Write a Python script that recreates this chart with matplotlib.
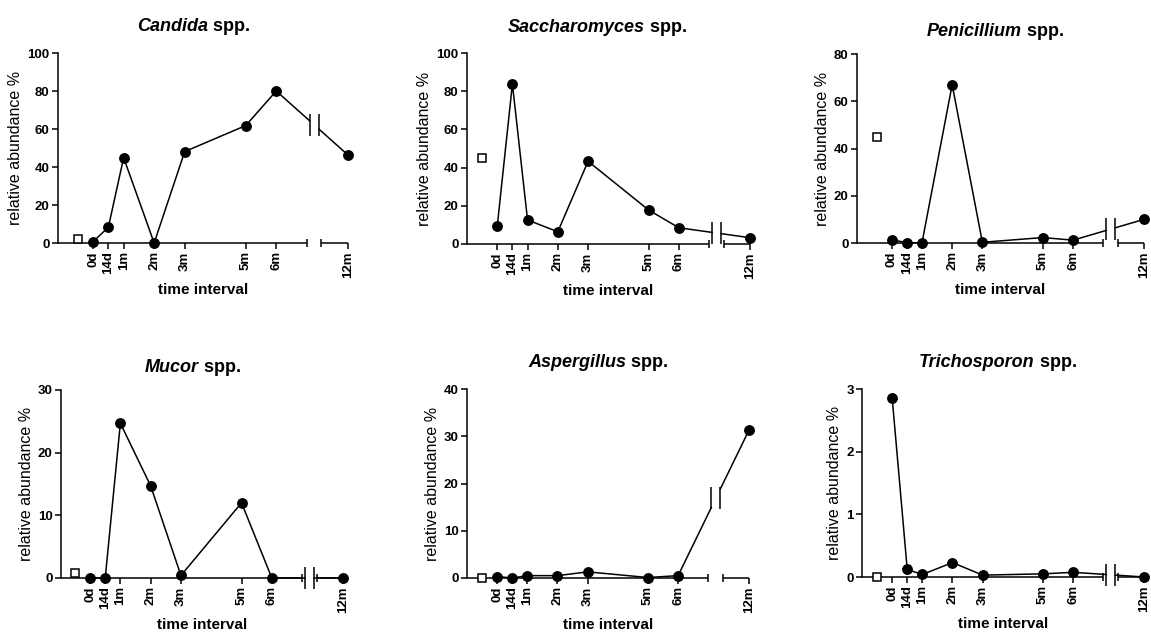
import matplotlib.pyplot as plt
import numpy as np

plt.rcParams["font.family"] = ["Liberation Sans", "DejaVu Sans"]

# sampling times; 12m sits behind an axis break
time_labels = ["0d", "14d", "1m", "2m", "3m", "5m", "6m", "12m"]
time_months = [0, 0.5, 1, 2, 3, 5, 6, 12]

genera = ["Candida", "Saccharomyces", "Penicillium", "Mucor", "Aspergillus", "Trichosporon"]

# relative abundance % at each time point
candida = [0.7, 8.3, 44.9, 0.0, 48.1, 61.8, 80.0, 46.3]
saccharomyces = [9.4, 83.8, 12.6, 6.4, 43.3, 17.8, 8.5, 3.3]
penicillium = [1.3, 0.2, 0.0, 67.0, 0.3, 2.3, 1.2, 10.0]
mucor = [0.0, 0.0, 24.7, 14.7, 0.4, 12.0, 0.0, 0.0]
aspergillus = [0.3, 0.0, 0.5, 0.5, 1.3, 0.1, 0.5, 31.3]
trichosporon = [2.86, 0.12, 0.04, 0.23, 0.03, 0.05, 0.075, 0.0]

# open-square reference value (before 0d)
controls = [2.0, 45.0, 45.0, 0.75, 0.0, 0.0]

y_max = [100, 100, 80, 30, 40, 3]
y_step = [20, 20, 20, 10, 10, 1]

W, H = 1151, 633
# axes boxes in pixels: left, top, right, bottom
boxes = [(58, 53, 348, 243), (467, 53, 750, 244), (857, 54, 1144, 243),
         (61, 390, 343, 578), (467, 389, 749, 578), (862, 389, 1144, 577)]
x_left = [-1.15, -1.0, -1.15, -0.96, -1.0, -1.0]
title_at = [(137, 31), (508, 32), (927, 36), (145, 372), (528, 367), (919, 367)]

BREAK_SCALE = 2.35 / 6.0
X_RIGHT = 6 + 6 * BREAK_SCALE
AX_END, AX_RESTART = 7.0, 7.48
LINE_CUT1, LINE_CUT2 = 7.1, 7.4
LW = 1.1


def to_axis(months):
    m = np.asarray(months, dtype=float)
    return np.where(m <= 6, m, 6 + (m - 6) * BREAK_SCALE)


def draw_panel(ax, values, ctrl, ymax, ystep, xl):
    x = to_axis(time_months)
    y = np.asarray(values, dtype=float)
    seg_x, seg_y = [x[6], x[7]], [y[6], y[7]]
    y1 = np.interp(LINE_CUT1, seg_x, seg_y)
    y2 = np.interp(LINE_CUT2, seg_x, seg_y)
    ymid = np.interp((LINE_CUT1 + LINE_CUT2) / 2, seg_x, seg_y)

    ax.plot(np.r_[x[:7], LINE_CUT1], np.r_[y[:7], y1], color="k", lw=LW, clip_on=False)
    ax.plot([LINE_CUT2, x[7]], [y2, y[7]], color="k", lw=LW, clip_on=False)
    ax.plot([LINE_CUT1, LINE_CUT2], [ymid, ymid], ls="none", marker="|",
            ms=16, mew=LW, color="k", clip_on=False)
    ax.plot(x, y, "o", ms=6.8, color="k", clip_on=False, zorder=4)
    ax.plot([-0.5], [ctrl], "s", mfc="white", mec="k", ms=6, mew=1.1,
            clip_on=False, zorder=4)

    # broken x axis
    for s in ("top", "right", "bottom"):
        ax.spines[s].set_visible(False)
    ax.spines["left"].set_linewidth(LW)
    ax.plot([xl, AX_END], [0, 0], color="k", lw=LW, clip_on=False, solid_capstyle="butt")
    ax.plot([AX_RESTART, X_RIGHT], [0, 0], color="k", lw=LW, clip_on=False,
            solid_capstyle="butt")
    ax.plot([AX_END, AX_RESTART], [0, 0], ls="none", marker="|", ms=6, mew=LW,
            color="k", clip_on=False)

    ax.set_xlim(xl, X_RIGHT)
    ax.set_ylim(0, ymax)
    ax.set_xticks(x)
    ax.set_xticklabels(time_labels, rotation=90, fontsize=9.5, fontweight="bold")
    yt = np.arange(0, ymax + ystep / 2, ystep)
    ax.set_yticks(yt)
    ax.set_yticklabels([f"{v:g}" for v in yt], fontsize=9.5, fontweight="bold")
    ax.tick_params(direction="out", length=4, width=LW, pad=2)
    ax.set_ylabel("relative abundance %", fontsize=11.5, labelpad=3)
    ax.set_xlabel("time interval", fontsize=11, fontweight="bold", labelpad=4)


fig = plt.figure(figsize=(W / 100, H / 100), dpi=100)
series = [candida, saccharomyces, penicillium, mucor, aspergillus, trichosporon]

for i, genus in enumerate(genera):
    l, t, r, b = boxes[i]
    ax = fig.add_axes([l / W, 1 - b / H, (r - l) / W, (b - t) / H])
    draw_panel(ax, series[i], controls[i], y_max[i], y_step[i], x_left[i])
    tx, ty = title_at[i]
    name = fig.text(tx / W, 1 - ty / H, genus, fontsize=13, fontweight="bold",
                    fontstyle="italic", ha="left", va="baseline")
    ax.annotate(" spp.", xy=(1, 0), xycoords=name, fontsize=13,
                fontweight="bold", ha="left", va="bottom")

fig.savefig("out.png", dpi=100)
